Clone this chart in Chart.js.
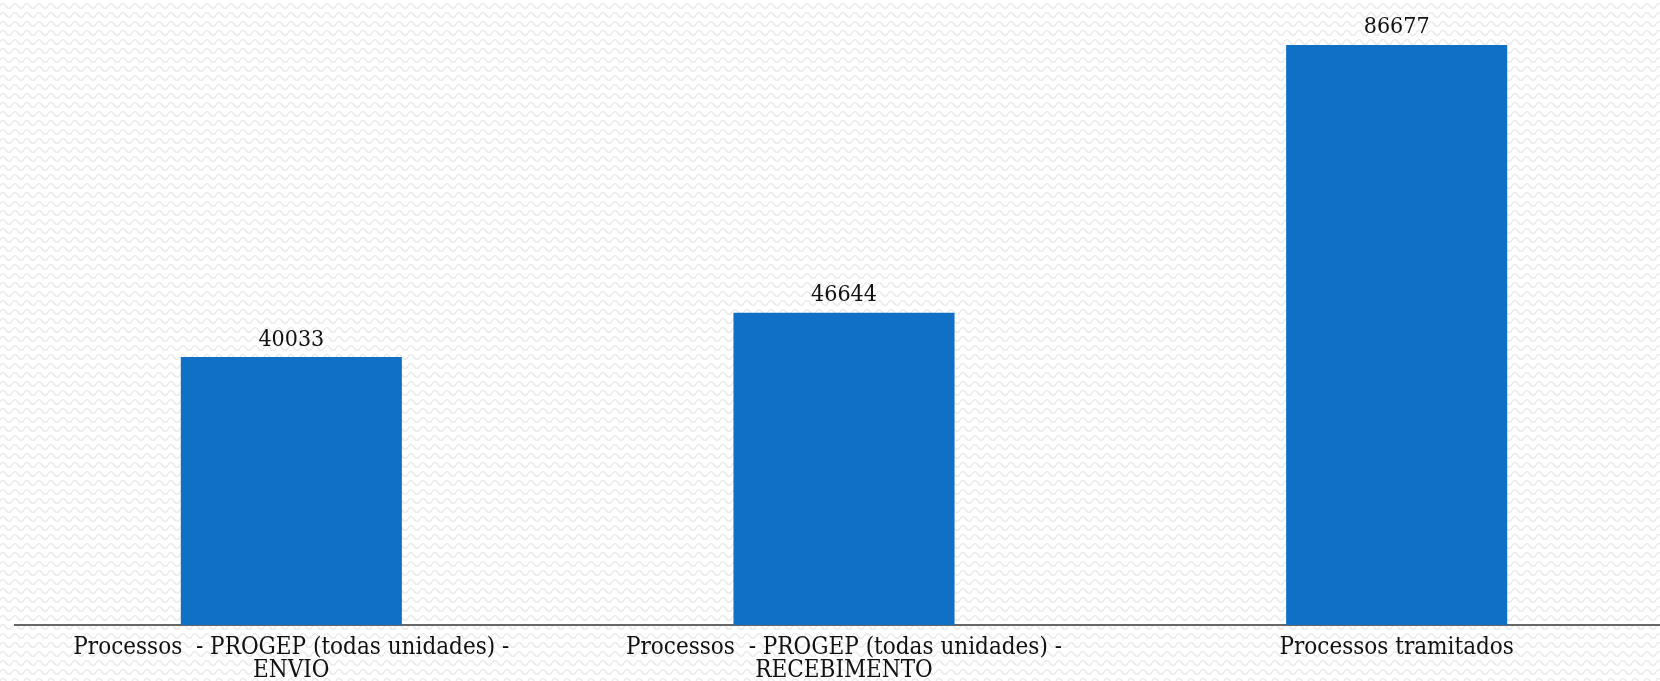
<!DOCTYPE html>
<html>
<head>
<meta charset="utf-8">
<script src="https://cdn.jsdelivr.net/npm/chart.js@4"></script>
<style>
  html, body { margin: 0; padding: 0; overflow: hidden; }
  body {
    width: 1660px; height: 681px;
    background-color: #ffffff;
    background-image: url("data:image/svg+xml;utf8,<svg xmlns='http://www.w3.org/2000/svg' width='12' height='9'><path d='M0 6 Q3 1 6 6 T12 6' fill='none' stroke='%23ebebeb' stroke-width='1.6'/></svg>");
  }
  #wrap { position: relative; width: 1673px; height: 681px; }
</style>
</head>
<body>
<div id="wrap"><canvas id="grafico"></canvas></div>
<script>
const categorias = [
  ['Processos  - PROGEP (todas unidades) -', 'ENVIO'],
  ['Processos  - PROGEP (todas unidades) -', 'RECEBIMENTO'],
  'Processos tramitados'
];
const valores = [40033, 46644, 86677];

const corBarra = 'rgb(16, 112, 198)';
const fonteTexto = '"DejaVu Serif Condensed", "DejaVu Serif", serif';

// rotulos acima das barras
const rotulosPlugin = {
  id: 'rotulos',
  afterDatasetsDraw(chart) {
    const ctx = chart.ctx;
    const meta = chart.getDatasetMeta(0);
    ctx.save();
    ctx.font = '23px ' + fonteTexto;
    ctx.fillStyle = '#111';
    ctx.textAlign = 'center';
    ctx.textBaseline = 'bottom';
    meta.data.forEach((bar, i) => {
      ctx.fillText(String(valores[i]), bar.x, bar.y - 6);
    });
    ctx.restore();
  }
};

document.addEventListener('DOMContentLoaded', function() {
  const ctx = document.getElementById('grafico').getContext('2d');
  new Chart(ctx, {
    type: 'bar',
    data: {
      labels: categorias,
      datasets: [{
        data: valores,
        backgroundColor: corBarra,
        barPercentage: 0.4,
        categoryPercentage: 1.0
      }]
    },
    options: {
      responsive: true,
      maintainAspectRatio: false,
      animation: false,
      layout: { padding: { left: 15, right: 0, top: 0, bottom: 0 } },
      plugins: {
        legend: { display: false },
        tooltip: { enabled: false }
      },
      scales: {
        x: {
          grid: { display: false },
          border: { display: true, color: '#666666', width: 2 },
          ticks: {
            color: '#111',
            font: { family: fonteTexto, size: 24, lineHeight: 0.97 },
            padding: 3,
            maxRotation: 0,
            autoSkip: false
          },
          afterFit(scale) { scale.height = 56; }
        },
        y: {
          display: false,
          min: 0,
          max: 93400
        }
      }
    },
    plugins: [rotulosPlugin]
  });
});
</script>
</body>
</html>
